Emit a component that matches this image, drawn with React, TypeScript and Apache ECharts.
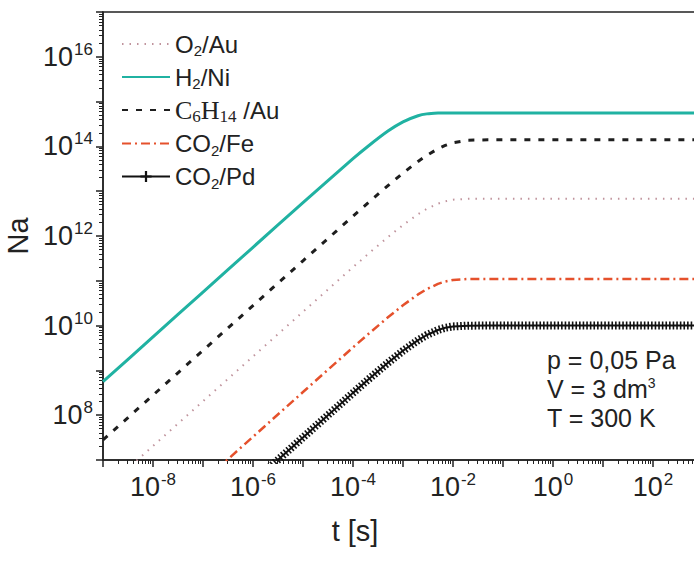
import React, { useEffect, useRef } from "react";
import * as echarts from "echarts";

const timeS = [1e-9, 1e-8, 1e-7, 1e-6, 1e-5, 1e-4, 2e-4, 5e-4, 1e-3, 2e-3, 3e-3, 5e-3, 7e-3, 1e-2, 2e-2, 5e-2, 1e-1, 1, 10, 100, 1e3, 1e4];
const o2Au = [2.05e6, 2.05e7, 2.05e8, 2.05e9, 2.04e10, 2.01e11, 3.96e11, 9.45e11, 1.76e12, 3.07e12, 4.03e12, 5.28e12, 5.97e12, 6.46e12, 6.78e12, 6.8e12, 6.8e12, 6.8e12, 6.8e12, 6.8e12, 6.8e12, 6.8e12];
const h2Ni = [5.6e8, 5.6e9, 5.6e10, 5.6e11, 5.57e12, 5.33e13, 1.01e14, 2.2e14, 3.54e14, 4.84e14, 5.32e14, 5.56e14, 5.6e14, 5.6e14, 5.6e14, 5.6e14, 5.6e14, 5.6e14, 5.6e14, 5.6e14, 5.6e14, 5.6e14];
const c6h14Au = [2.8e7, 2.8e8, 2.8e9, 2.8e10, 2.8e11, 2.77e12, 5.49e12, 1.33e13, 2.54e13, 4.62e13, 6.31e13, 8.85e13, 1.05e14, 1.21e14, 1.375e14, 1.4e14, 1.4e14, 1.4e14, 1.4e14, 1.4e14, 1.4e14, 1.4e14];
const co2Fe = [3.3e4, 3.3e5, 3.3e6, 3.3e7, 3.29e8, 3.26e9, 6.4e9, 1.53e10, 2.85e10, 4.96e10, 6.52e10, 8.55e10, 9.66e10, 1.045e11, 1.097e11, 1.1e11, 1.1e11, 1.1e11, 1.1e11, 1.1e11, 1.1e11, 1.1e11];
const co2Pd = [3.2e3, 3.2e4, 3.2e5, 3.2e6, 3.19e7, 3.15e8, 6.2e8, 1.48e9, 2.74e9, 4.73e9, 6.17e9, 7.98e9, 8.94e9, 9.59e9, 9.98e9, 1e10, 1e10, 1e10, 1e10, 1e10, 1e10, 1e10];

const seriesNames = ["O2/Au", "H2/Ni", "C6H14 /Au", "CO2/Fe", "CO2/Pd"];
const legendLabels: Record<string, string> = {
  "O2/Au": "O{sub|2}/Au",
  "H2/Ni": "H{sub|2}/Ni",
  "C6H14 /Au": "{serif|C}{ssub|6}{serif|H}{ssub|14}{sp| }/Au",
  "CO2/Fe": "CO{sub|2}/Fe",
  "CO2/Pd": "CO{sub|2}/Pd",
};
const xLabelExponents = [-8, -6, -4, -2, 0, 2];
const yLabelExponents = [8, 10, 12, 14, 16];
const annotationLines = ["p = 0,05 Pa", "V = 3 dm{sup|3}", "T = 300 K"];
const xTitle = "t [s]";
const yTitle = "Na";

const FONT = "'Liberation Sans', Arial, sans-serif";
const SERIF = "'Liberation Serif', 'DejaVu Serif', serif";
const INK = "#222";

const pair = (vals: number[]) => timeS.map((t, i) => [t, vals[i]]);

const tickRich = {
  b: { fontSize: 27, fontFamily: FONT, color: INK },
  s: { fontSize: 17, fontFamily: FONT, color: INK, padding: [0, 0, 15, 1] },
};
const expLabel = (allowed: number[]) => (v: number) => {
  const e = Math.round(Math.log10(v));
  return allowed.includes(e) ? `{b|10}{s|${e}}` : "";
};

export default function App() {
  const ref = useRef<HTMLDivElement>(null);
  useEffect(() => {
    if (!ref.current) return;
    const chart = echarts.init(ref.current, undefined, { renderer: "svg" });
    const plus = "path://M4,0H6V4H10V6H6V10H4V6H0V4H4Z";
    chart.setOption({
      animation: false,
      backgroundColor: "#fff",
      grid: {
        left: 103,
        top: 12,
        width: 650,
        height: 448,
        show: true,
        borderColor: INK,
        borderWidth: 1.5,
        outerBoundsMode: "none",
        containLabel: false,
      },
      legend: {
        orient: "vertical",
        left: 116,
        top: 26,
        itemWidth: 48,
        itemHeight: 14,
        itemGap: 6,
        data: seriesNames.map((n) => ({
          name: n,
          itemStyle: n === "CO2/Pd" ? undefined : { opacity: 0 },
        })),
        formatter: (n: string) => legendLabels[n] ?? n,
        textStyle: {
          fontSize: 24,
          fontFamily: FONT,
          color: INK,
          lineHeight: 26,
          rich: {
            sub: { fontSize: 15, fontFamily: FONT, color: INK, padding: [13, 0, 0, 0] },
            serif: { fontSize: 26, fontFamily: SERIF, color: INK },
            ssub: { fontSize: 17, fontFamily: SERIF, color: INK, padding: [12, 0, 0, 0] },
            sp: { fontSize: 24, fontFamily: FONT },
          },
        },
      },
      xAxis: {
        type: "log",
        logBase: 10,
        min: 1e-9,
        max: 1e4,
        interval: 1,
        axisLine: { lineStyle: { color: INK, width: 1.5 } },
        axisTick: { length: 7, lineStyle: { color: INK, width: 1.5 } },
        minorTick: { show: true, splitNumber: 9, length: 4, lineStyle: { color: INK, width: 1 } },
        splitLine: { show: false },
        axisLabel: { margin: 11, formatter: expLabel(xLabelExponents), rich: tickRich },
      },
      yAxis: {
        type: "log",
        logBase: 10,
        min: 1e7,
        max: 1e17,
        interval: 1,
        name: yTitle,
        nameLocation: "middle",
        nameGap: 62,
        nameTextStyle: { fontSize: 29, fontFamily: FONT, color: INK },
        axisLine: { lineStyle: { color: INK, width: 1.5 } },
        axisTick: { length: 7, lineStyle: { color: INK, width: 1.5 } },
        minorTick: { show: true, splitNumber: 9, length: 4, lineStyle: { color: INK, width: 1 } },
        splitLine: { show: false },
        axisLabel: { margin: 10, formatter: expLabel(yLabelExponents), rich: tickRich },
      },
      series: [
        {
          name: "O2/Au",
          type: "line",
          data: pair(o2Au),
          symbol: "none",
          lineStyle: { color: "#c0949d", width: 2, type: [1.5, 6] },
          itemStyle: { color: "#c0949d" },
        },
        {
          name: "H2/Ni",
          type: "line",
          data: pair(h2Ni),
          symbol: "none",
          smooth: 0.15,
          lineStyle: { color: "#20b2a2", width: 3 },
          itemStyle: { color: "#20b2a2" },
        },
        {
          name: "C6H14 /Au",
          type: "line",
          data: pair(c6h14Au),
          symbol: "none",
          lineStyle: { color: "#1e1e1e", width: 3, type: [6, 8] },
          itemStyle: { color: "#1e1e1e" },
        },
        {
          name: "CO2/Fe",
          type: "line",
          data: pair(co2Fe),
          symbol: "none",
          lineStyle: { color: "#e5512c", width: 2.5, type: [9, 4, 2, 4] },
          itemStyle: { color: "#e5512c" },
        },
        {
          name: "CO2/Pd",
          type: "line",
          data: pair(co2Pd),
          symbol: plus,
          symbolSize: 10,
          showSymbol: false,
          lineStyle: { color: "#111", width: 2 },
          itemStyle: { color: "#111" },
        },
        {
          name: "CO2/Pd markers",
          type: "line",
          data: pair(co2Pd),
          symbol: "none",
          lineStyle: { color: "#111", width: 8, type: [1.6, 2] },
          silent: true,
        },
      ],
      graphic: [
        {
          type: "text",
          x: 355,
          y: 531,
          style: { text: xTitle, fontSize: 29, fontFamily: FONT, fill: INK, align: "center", verticalAlign: "middle" },
        },
        ...annotationLines.map((t, i) => ({
          type: "text",
          x: 547,
          y: 360 + i * 29,
          style: {
            text: t,
            fontSize: 25,
            fontFamily: FONT,
            fill: INK,
            align: "left",
            verticalAlign: "middle",
            rich: { sup: { fontSize: 14, fontFamily: FONT, fill: INK, padding: [0, 0, 12, 0] } },
          },
        })),
      ],
    });
    return () => chart.dispose();
  }, []);
  return (
    <div
      ref={ref}
      style={{ position: "absolute", left: 0, top: 0, width: 694, height: 561, overflow: "hidden", background: "#fff" }}
    />
  );
}
